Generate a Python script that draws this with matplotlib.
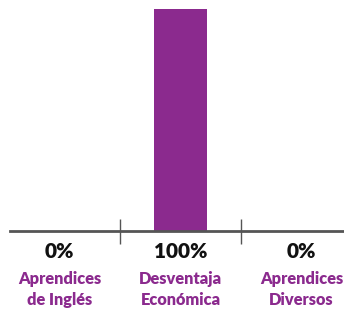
import matplotlib.pyplot as plt
from matplotlib import transforms

categories = ["Aprendices\nde Inglés", "Desventaja\nEconómica", "Aprendices\nDiversos"]
values = [0, 100, 0]

purple = "#8B2A8E"

fig = plt.figure(figsize=(3.44, 3.12), dpi=100)
ax = fig.add_axes([10 / 344, 81 / 312, 1 - 10 / 344, (231 - 9) / 312])

x = list(range(len(categories)))
ax.bar(x, values, width=0.44, color=purple, zorder=2)

ax.set_xlim(-0.409, 2.351)
ax.set_ylim(0, 100)

for s in ["top", "right", "left"]:
    ax.spines[s].set_visible(False)
ax.spines["bottom"].set_color("#555555")
ax.spines["bottom"].set_linewidth(2)
ax.set_yticks([])
ax.set_xticks([0.5, 1.5])
ax.set_xticklabels([])
ax.tick_params(axis="x", direction="inout", length=18, width=1, color="#555555")

trans = transforms.blended_transform_factory(ax.transData, fig.transFigure)
for xi, v, c in zip(x, values, categories):
    ax.text(xi, 1 - 251 / 312, f"{v}%", transform=trans, ha="center", va="center",
            fontsize=15, fontweight="heavy", color="#111111", family="Lato")
    ax.text(xi, 1 - 289.5 / 312, c, transform=trans, ha="center", va="center",
            fontsize=11.8, fontweight="heavy", color=purple, family="Lato",
            linespacing=1.45)

fig.savefig("out.png", dpi=100)
